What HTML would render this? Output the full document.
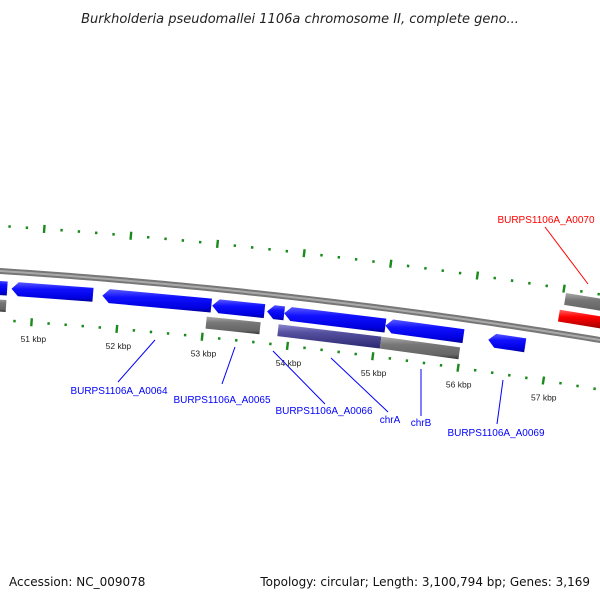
<!DOCTYPE html>
<html><head><meta charset="utf-8"><style>
body{margin:0;background:#fff;}
svg{display:block;font-family:"Liberation Sans","DejaVu Sans",sans-serif;}
</style></head><body>
<svg id="map" width="600" height="600" viewBox="0 0 600 600">
<defs>
<linearGradient id="gBlue" x1="0" y1="0" x2="0" y2="1"><stop offset="0" stop-color="#5a5aff"/><stop offset="0.35" stop-color="#1010ff"/><stop offset="0.8" stop-color="#0000e0"/><stop offset="1" stop-color="#000090"/></linearGradient>
<linearGradient id="gGrey" x1="0" y1="0" x2="0" y2="1"><stop offset="0" stop-color="#aaa"/><stop offset="0.35" stop-color="#777"/><stop offset="0.8" stop-color="#666"/><stop offset="1" stop-color="#333"/></linearGradient>
<linearGradient id="gPurple" x1="0" y1="0" x2="0" y2="1"><stop offset="0" stop-color="#8a86d0"/><stop offset="0.35" stop-color="#55509e"/><stop offset="1" stop-color="#2a2670"/></linearGradient>
<linearGradient id="gRed" x1="0" y1="0" x2="0" y2="1"><stop offset="0" stop-color="#ff6060"/><stop offset="0.35" stop-color="#ff0000"/><stop offset="1" stop-color="#900000"/></linearGradient>
</defs>
<text x="300" y="23" text-anchor="middle" font-size="13" font-style="italic" fill="#222" style="font-family:'DejaVu Sans',sans-serif">Burkholderia pseudomallei 1106a chromosome II, complete geno...</text>
<g id="ticks"></g>
<g id="backbone"></g>
<g id="features"></g>
<g font-size="10">
<line x1="155" y1="340" x2="118" y2="382" stroke="#00f"/>
<text x="119" y="394" text-anchor="middle" fill="#00f">BURPS1106A_A0064</text>
<line x1="235" y1="347" x2="222" y2="384" stroke="#00f"/>
<text x="222" y="403" text-anchor="middle" fill="#00f">BURPS1106A_A0065</text>
<line x1="273" y1="351" x2="325" y2="404" stroke="#00f"/>
<text x="324" y="414" text-anchor="middle" fill="#00f">BURPS1106A_A0066</text>
<line x1="331" y1="358" x2="388" y2="412" stroke="#00f"/>
<text x="390" y="423" text-anchor="middle" fill="#00f">chrA</text>
<line x1="421" y1="369" x2="421" y2="416" stroke="#00f"/>
<text x="421" y="426" text-anchor="middle" fill="#00f">chrB</text>
<line x1="503" y1="380" x2="497" y2="424" stroke="#00f"/>
<text x="496" y="436" text-anchor="middle" fill="#00f">BURPS1106A_A0069</text>
<line x1="588" y1="284" x2="545" y2="227" stroke="#f00"/>
<text x="546" y="223" text-anchor="middle" fill="#f00">BURPS1106A_A0070</text>
</g>
<text x="9" y="586" font-size="12" fill="#111" style="font-family:'DejaVu Sans',sans-serif">Accession: NC_009078</text>
<text x="590" y="586" text-anchor="end" font-size="12" fill="#111" style="font-family:'DejaVu Sans',sans-serif">Topology: circular; Length: 3,100,794 bp; Genes: 3,169</text>
</svg>
<script>
const featureNames = ["prev-gene","A0063","A0064","A0065","small-gene","A0066","chrA-gene","A0069","prev-grey","A0065-grey","A0066-purple","chrB-grey","A0070-grey","A0070-red"];
const featureStart = [50.30,50.74,51.80,53.08,53.72,53.92,55.10,56.30,50.30,53.03,53.87,55.07,57.10,57.06];
const featureEnd   = [50.69,51.69,53.07,53.69,53.92,55.10,56.01,56.73,50.69,53.66,55.07,55.99,57.70,57.70];
const featureRow   = [1,1,1,1,1,1,1,1,2,2,2,2,-2,-1];
const featureArrow = [0,1,1,1,1,1,1,1,0,0,0,0,0,0];
const featureKind  = ["blue","blue","blue","blue","blue","blue","blue","blue","grey","grey","purple","grey","grey","red"];
const tickLabels = ["50 kbp","51 kbp","52 kbp","53 kbp","54 kbp","55 kbp","56 kbp","57 kbp","58 kbp"];
const tickKbp = [50,51,52,53,54,55,56,57,58];

const NS="http://www.w3.org/2000/svg";
function xOf(k){return 35+(k-51)*86;}
function baseY(x){return 271+0.065*x+8.33e-5*x*x;}
function pt(k,d){const x=xOf(k);const s=0.065+2*8.33e-5*x;const n=Math.sqrt(1+s*s);return [x-s*d/n, baseY(x)+d/n];}
function mk(tag,parent,attrs){const e=document.createElementNS(NS,tag);for(const a in attrs)e.setAttribute(a,attrs[a]);parent.appendChild(e);return e;}

const bb=document.getElementById('backbone');
let p1=[];
for(let k=50.3;k<=58.0;k+=0.1){p1.push(pt(k,0).join(','));}
const bl=mk('polyline',bb,{points:p1.join(' '),fill:'none',stroke:'#777','stroke-width':6});


const bl2=mk('polyline',bb,{points:p1.join(' '),fill:'none',stroke:'#aaa','stroke-width':2});



const tg=document.getElementById('ticks');
for(let i=0;i<=40;i++){
  const k=50.4+i*0.2; const major=Math.abs(k-Math.round(k))<0.01;
  [[49,0],[-45,0.07]].forEach(([d,sh])=>{
    const a=pt(k+sh,d-(major?4:1.3)),b=pt(k+sh,d+(major?4:1.3));
    const t=mk('line',tg,{x1:a[0],y1:a[1],x2:b[0],y2:b[1],stroke:'#1a8a1a','stroke-width':2.4});
    
    
  });
}
tickKbp.forEach((k,i)=>{
  const p=pt(k,66);
  const t=mk('text',tg,{x:p[0]+3,y:p[1]+3,'text-anchor':'middle','font-size':8.5,fill:'#222'});
  t.textContent=tickLabels[i];
  
  
});

const fg=document.getElementById('features');
const fills={blue:'url(#gBlue)',grey:'url(#gGrey)',purple:'url(#gPurple)',red:'url(#gRed)'};
featureNames.forEach((nm,i)=>{
  const r=featureRow[i]; const d=r*17.5 + (r>0? -0.5:0); const h=featureKind[i]==='blue'?7:6;
  const k1=featureStart[i],k2=featureEnd[i]; const ar=featureArrow[i]?0.08:0;
  const pts=[pt(k1+ar,d-h),pt(k2,d-h),pt(k2,d+h),pt(k1+ar,d+h)];
  if(ar) pts.push(pt(k1,d));
  const poly=mk('polygon',fg,{points:pts.map(p=>p.join(',')).join(' '),fill:fills[featureKind[i]]});
  
  
});
</script>
</body></html>
